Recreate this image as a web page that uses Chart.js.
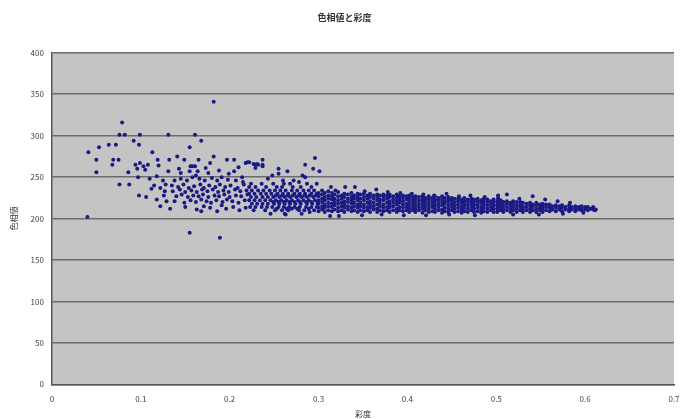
<!DOCTYPE html>
<html>
<head>
<meta charset="utf-8">
<script src="https://cdn.jsdelivr.net/npm/chart.js@4/dist/chart.umd.min.js"></script>
<style>
  html, body { margin: 0; padding: 0; background: #ffffff; }
  #wrap { width: 680px; height: 419px; }
</style>
</head>
<body>
<div id="wrap"><canvas id="grafica" width="680" height="419"></canvas></div>
<script>
// [彩度, 色相値] pairs, grouped by region
const sparseLeft = [
  [0.040,202],[0.041,280],[0.050,271],[0.050,256],[0.053,286],[0.064,289],[0.068,265],[0.069,271],
  [0.072,289],[0.075,271],[0.076,301],[0.076,241],[0.079,316],[0.082,301],[0.086,256],[0.087,241],
  [0.092,294],[0.098,289],[0.099,301],[0.098,228],[0.106,226],[0.113,280],[0.118,223],[0.094,265],
  [0.099,267],[0.103,263],[0.108,265],[0.096,260],[0.105,259],[0.097,250],[0.110,248],[0.118,251],
  [0.119,271],[0.120,264],[0.125,246],[0.115,240],[0.122,237],[0.127,233],[0.112,236],[0.131,301],
  [0.132,271],[0.131,257],[0.128,241],[0.126,228],[0.129,221],[0.122,215],[0.133,212]
];

const clusterLow = [
  [0.141,275],[0.149,271],[0.143,260],[0.156,263],[0.158,263],[0.161,263],[0.155,257],[0.164,257],
  [0.165,271],[0.173,261],[0.155,286],[0.161,301],[0.168,294],[0.182,341],[0.182,275],[0.178,267],
  [0.197,271],[0.205,271],[0.205,257],[0.155,183],[0.189,177],[0.168,209],
  [0.138,246],[0.145,248],[0.152,246],[0.158,250],[0.166,248],[0.172,246],[0.180,249],[0.186,246],
  [0.191,250],[0.198,247],[0.207,246],[0.214,250],
  [0.135,240],[0.142,238],[0.148,241],[0.154,237],[0.160,239],[0.167,241],[0.171,237],[0.177,240],
  [0.184,238],[0.189,241],[0.195,238],[0.201,240],[0.209,237],[0.216,241],
  [0.136,233],[0.144,235],[0.150,232],[0.157,234],[0.163,232],[0.169,235],[0.175,233],[0.181,235],
  [0.187,232],[0.193,234],[0.199,232],[0.206,235],[0.212,233],[0.219,234],
  [0.140,227],[0.146,229],[0.153,226],[0.159,228],[0.165,227],[0.170,229],[0.176,226],[0.183,228],
  [0.188,227],[0.194,229],[0.200,226],[0.207,228],[0.213,227],[0.220,229],
  [0.138,221],[0.149,219],[0.156,222],[0.162,220],[0.168,223],[0.174,221],[0.179,219],[0.185,222],
  [0.192,220],[0.197,223],[0.203,221],[0.210,219],[0.217,222],
  [0.150,214],[0.163,211],[0.171,215],[0.178,213],[0.186,209],[0.191,216],[0.196,212],[0.204,214],
  [0.211,210],[0.218,213],
  [0.145,255],[0.162,252],[0.176,255],[0.188,258],[0.199,254],[0.210,262],[0.215,244],[0.218,267],[0.222,268]
];

const clusterMid = [
  [0.229,265],[0.237,263],[0.229,261],[0.237,271],[0.237,265],[0.232,265],[0.227,266],[0.231,266],
  [0.220,268],[0.255,260],[0.255,254],[0.265,257],[0.282,252],[0.285,250],[0.272,246],[0.296,273],
  [0.285,265],[0.301,257],[0.294,260],[0.263,205],[0.290,208],[0.248,252],[0.243,248],[0.260,246],[0.278,244],
  [0.224,242],[0.236,242],[0.249,242],[0.261,242],[0.268,242],[0.287,242],[0.298,242],
  [0.222,238],[0.229,238],[0.241,238],[0.253,238],[0.259,238],[0.271,238],[0.280,238],[0.292,238],
  [0.225,234],[0.232,234],[0.238,234],[0.245,234],[0.251,234],[0.257,234],[0.263,234],[0.270,234],
  [0.276,234],[0.283,234],[0.289,234],[0.295,234],
  [0.222,230],[0.228,230],[0.235,230],[0.241,230],[0.247,230],[0.254,230],[0.260,230],[0.266,230],
  [0.273,230],[0.279,230],[0.285,230],[0.292,230],[0.298,230],
  [0.252,228],[0.259,228],[0.265,228],[0.271,228],[0.278,228],[0.284,228],[0.290,228],[0.297,228],
  [0.224,226],[0.230,226],[0.237,226],[0.243,226],[0.249,226],[0.256,226],[0.262,226],[0.268,226],
  [0.275,226],[0.281,226],[0.287,226],[0.294,226],
  [0.222,222],[0.228,222],[0.234,222],[0.240,222],[0.246,222],[0.252,222],[0.258,222],[0.264,222],
  [0.270,222],[0.277,222],[0.283,222],[0.289,222],[0.296,222],
  [0.249,220],[0.255,220],[0.261,220],[0.267,220],[0.273,220],[0.279,220],[0.286,220],[0.292,220],[0.299,220],
  [0.225,218],[0.231,218],[0.237,218],[0.243,218],[0.250,218],[0.256,218],[0.262,218],[0.268,218],
  [0.274,218],[0.280,218],[0.287,218],[0.293,218],[0.299,218],
  [0.223,214],[0.229,214],[0.236,214],[0.242,214],[0.248,214],[0.255,214],[0.261,214],[0.267,214],
  [0.273,214],[0.279,214],[0.286,214],[0.292,214],[0.298,214],
  [0.253,212],[0.264,212],[0.270,212],[0.276,212],[0.289,212],
  [0.227,210],[0.240,210],[0.251,210],[0.259,210],[0.266,210],[0.278,210],[0.284,210],[0.295,210],
  [0.246,206],[0.262,206],[0.281,206]
];

const bandHead = [
  [0.300,209],[0.300,213],[0.300,218],[0.300,222],[0.300,227],[0.300,231],
  [0.304,211],[0.304,215],[0.304,220],[0.304,224],[0.304,229],[0.304,234],
  [0.307,208],[0.307,213],[0.307,217],[0.307,222],[0.307,226],[0.307,231],
  [0.311,210],[0.311,215],[0.311,219],[0.311,224],[0.311,228],[0.311,233],
  [0.315,209],[0.315,214],[0.315,218],[0.315,223],[0.315,227],[0.315,231],
  [0.318,211],[0.318,216],[0.318,220],[0.318,224],[0.318,229],
  [0.322,209],[0.322,213],[0.322,218],[0.322,222],[0.322,227],[0.322,232],
  [0.326,210],[0.326,215],[0.326,219],[0.326,224],[0.326,228],
  [0.329,208],[0.329,213],[0.329,217],[0.329,221],[0.329,226],[0.329,230],
  [0.333,211],[0.333,215],[0.333,220],[0.333,224],[0.333,229],
  [0.337,209],[0.337,213],[0.337,218],[0.337,222],[0.337,226],[0.337,231],
  [0.340,210],[0.340,215],[0.340,219],[0.340,224],[0.340,228],
  [0.344,208],[0.344,213],[0.344,217],[0.344,222],[0.344,226],[0.344,230],
  [0.347,210],[0.347,215],[0.347,219],[0.347,224],[0.347,229],
  [0.351,209],[0.351,213],[0.351,217],[0.351,222],[0.351,226],[0.351,230],
  [0.355,210],[0.355,214],[0.355,219],[0.355,224],[0.355,228],
  [0.358,208],[0.358,213],[0.358,217],[0.358,221],[0.358,226],[0.358,230],
  [0.362,211],[0.362,215],[0.362,219],[0.362,224],[0.362,228],
  [0.366,208],[0.366,212],[0.366,217],[0.366,222],[0.366,226],[0.366,229],
  [0.369,210],[0.369,215],[0.369,219],[0.369,223],[0.369,228],
  [0.373,209],[0.373,213],[0.373,217],[0.373,222],[0.373,226],[0.373,229],
  [0.377,210],[0.377,214],[0.377,219],[0.377,224],[0.377,228],
  [0.380,208],[0.380,213],[0.380,217],[0.380,221],[0.380,226],[0.380,229],
  [0.384,210],[0.384,215],[0.384,219],[0.384,223],[0.384,227],
  [0.388,208],[0.388,212],[0.388,217],[0.388,221],[0.388,225],[0.388,229],
  [0.391,210],[0.391,214],[0.391,219],[0.391,223],[0.391,227],
  [0.395,209],[0.395,213],[0.395,217],[0.395,221],[0.395,225],[0.395,228],
  [0.399,210],[0.399,214],[0.399,218],[0.399,223],[0.399,227]
];

const bandBody = [
  [0.402,208],[0.402,212],[0.402,216],[0.402,220],[0.402,224],[0.402,228],
  [0.406,210],[0.406,214],[0.406,218],[0.406,222],[0.406,226],
  [0.409,208],[0.409,212],[0.409,216],[0.409,220],[0.409,224],[0.409,227],
  [0.413,210],[0.413,214],[0.413,218],[0.413,222],[0.413,226],
  [0.417,207],[0.417,212],[0.417,216],[0.417,220],[0.417,223],[0.417,227],
  [0.420,210],[0.420,214],[0.420,218],[0.420,222],[0.420,225],
  [0.424,208],[0.424,212],[0.424,216],[0.424,220],[0.424,224],[0.424,227],
  [0.428,209],[0.428,214],[0.428,218],[0.428,222],[0.428,225],
  [0.431,208],[0.431,212],[0.431,216],[0.431,220],[0.431,223],[0.431,227],
  [0.435,210],[0.435,214],[0.435,218],[0.435,222],[0.435,225],
  [0.439,207],[0.439,211],[0.439,216],[0.439,220],[0.439,224],[0.439,227],
  [0.442,209],[0.442,213],[0.442,218],[0.442,221],[0.442,225],
  [0.446,208],[0.446,212],[0.446,216],[0.446,220],[0.446,223],[0.446,226],
  [0.450,210],[0.450,214],[0.450,218],[0.450,222],[0.450,225],
  [0.453,208],[0.453,212],[0.453,216],[0.453,220],[0.453,224],
  [0.457,209],[0.457,213],[0.457,217],[0.457,221],[0.457,224],
  [0.461,207],[0.461,211],[0.461,215],[0.461,219],[0.461,223],
  [0.464,209],[0.464,213],[0.464,217],[0.464,221],[0.464,225],
  [0.468,208],[0.468,212],[0.468,216],[0.468,220],[0.468,223],
  [0.472,210],[0.472,214],[0.472,218],[0.472,221],[0.472,224],
  [0.475,208],[0.475,212],[0.475,216],[0.475,220],[0.475,223],
  [0.479,209],[0.479,213],[0.479,217],[0.479,221],[0.479,224],
  [0.483,207],[0.483,211],[0.483,215],[0.483,219],[0.483,222],
  [0.486,209],[0.486,213],[0.486,217],[0.486,221],[0.486,224],
  [0.490,208],[0.490,212],[0.490,216],[0.490,220],[0.490,223],
  [0.494,210],[0.494,214],[0.494,218],[0.494,221],
  [0.497,208],[0.497,212],[0.497,216],[0.497,220],[0.497,223]
];

const bandTail = [
  [0.501,208],[0.501,212],[0.501,216],[0.501,220],
  [0.502,210],[0.502,214],[0.502,219],[0.502,222],[0.502,225],[0.502,228],
  [0.505,210],[0.505,214],[0.505,218],[0.505,222],
  [0.508,208],[0.508,212],[0.508,216],[0.508,220],
  [0.512,210],[0.512,214],[0.512,218],[0.512,221],
  [0.516,208],[0.516,212],[0.516,216],[0.516,219],
  [0.519,210],[0.519,214],[0.519,218],[0.519,221],
  [0.523,208],[0.523,212],[0.523,216],[0.523,220],
  [0.527,210],[0.527,214],[0.527,217],[0.527,220],
  [0.530,208],[0.530,212],[0.530,215],[0.530,219],
  [0.534,210],[0.534,214],[0.534,218],
  [0.538,208],[0.538,212],[0.538,216],[0.538,219],
  [0.541,210],[0.541,214],[0.541,217],
  [0.545,208],[0.545,212],[0.545,216],[0.545,219],
  [0.549,210],[0.549,213],[0.549,217],
  [0.552,208],[0.552,212],[0.552,215],[0.552,218],
  [0.556,210],[0.556,214],[0.556,217],
  [0.560,209],[0.560,213],[0.560,217],
  [0.563,211],[0.563,215],
  [0.567,209],[0.567,213],[0.567,216],
  [0.571,211],[0.571,215],
  [0.574,209],[0.574,213],[0.574,216],
  [0.578,211],[0.578,214],
  [0.582,209],[0.582,212],[0.582,216],
  [0.585,211],[0.585,214],
  [0.589,209],[0.589,212],[0.589,215],
  [0.593,211],[0.593,214],
  [0.596,210],[0.596,213],[0.596,215],
  [0.600,211],[0.600,214],
  [0.603,210],[0.603,214],[0.606,212],[0.609,211],[0.609,214],[0.612,211]
];

const bandStray = [
  [0.313,203],[0.323,203],[0.330,238],[0.341,238],[0.319,234],[0.314,238],[0.352,233],[0.365,235],
  [0.378,232],[0.392,231],[0.405,230],[0.418,229],[0.430,228],[0.444,230],[0.458,227],[0.471,228],
  [0.487,226],[0.512,229],[0.541,227],[0.526,224],[0.555,223],[0.569,221],[0.583,219],[0.349,204],
  [0.371,205],[0.396,204],[0.421,204],[0.447,205],[0.476,204],[0.519,205],[0.548,205],[0.575,206],
  [0.598,207],[0.611,210]
];

const xTicks = [0, 0.1, 0.2, 0.3, 0.4, 0.5, 0.6, 0.7];
const yTicks = [0, 50, 100, 150, 200, 250, 300, 350, 400];

var puntos = [];
[sparseLeft, clusterLow, clusterMid, bandHead, bandBody, bandTail, bandStray].forEach(function (grupo) {
    for (var i = 0; i < grupo.length; i++) {
        puntos.push({x: grupo[i][0], y: grupo[i][1]});
    }
});

// fondo gris del area de trazado
var fondoPlugin = {
    id: 'fondo',
    beforeDraw: function (chart) {
        var a = chart.chartArea;
        var ctx = chart.ctx;
        ctx.save();
        ctx.fillStyle = '#c4c4c4';
        ctx.fillRect(a.left, a.top, a.right - a.left, a.bottom - a.top);
        ctx.restore();
    }
};

var fuente = {family: "'Noto Sans CJK JP', 'DejaVu Sans', sans-serif", size: 8};

new Chart("grafica", {
    type: 'scatter',
    data: {
        datasets: [{
            label: '色相値',
            data: puntos,
            backgroundColor: '#1a1a84',
            borderWidth: 0,
            pointRadius: 2,
            pointHoverRadius: 2
        }]
    },
    plugins: [fondoPlugin],
    options: {
        responsive: false,
        animation: false,
        layout: {padding: {top: 12, right: 0, left: 9, bottom: 1}},
        plugins: {
            legend: {display: false},
            tooltip: {enabled: false},
            title: {
                display: true,
                text: '色相値と彩度',
                color: '#333333',
                font: {family: fuente.family, size: 9, weight: 'bold'},
                padding: {top: 0, bottom: 30}
            }
        },
        scales: {
            x: {
                type: 'linear',
                min: 0,
                max: 0.7,
                afterBuildTicks: function (axis) {
                    axis.ticks = xTicks.map(function (v) { return {value: v}; });
                },
                afterFit: function (axis) {
                    // dejar que el 0.7 quede pegado al borde derecho
                    axis.paddingRight = 6;
                    axis.height -= 4;
                },
                ticks: {color: '#444444', font: fuente, padding: 10, maxRotation: 0},
                grid: {display: false, drawTicks: false},
                border: {display: true, color: '#555555', width: 1.5},
                title: {display: true, text: '彩度', color: '#333333',
                        font: {family: fuente.family, size: 8, lineHeight: 1}, padding: {top: 0, bottom: 0}}
            },
            y: {
                type: 'linear',
                min: 0,
                max: 400,
                afterBuildTicks: function (axis) {
                    axis.ticks = yTicks.map(function (v) { return {value: v}; });
                },
                ticks: {color: '#444444', font: fuente, padding: 8},
                grid: {color: '#6c6c6c', lineWidth: 1.6, drawTicks: false},
                border: {display: true, color: '#555555', width: 1.5},
                title: {display: true, text: '色相値', color: '#333333', font: fuente, padding: {top: 0, bottom: 4}}
            }
        }
    }
});
</script>
</body>
</html>
